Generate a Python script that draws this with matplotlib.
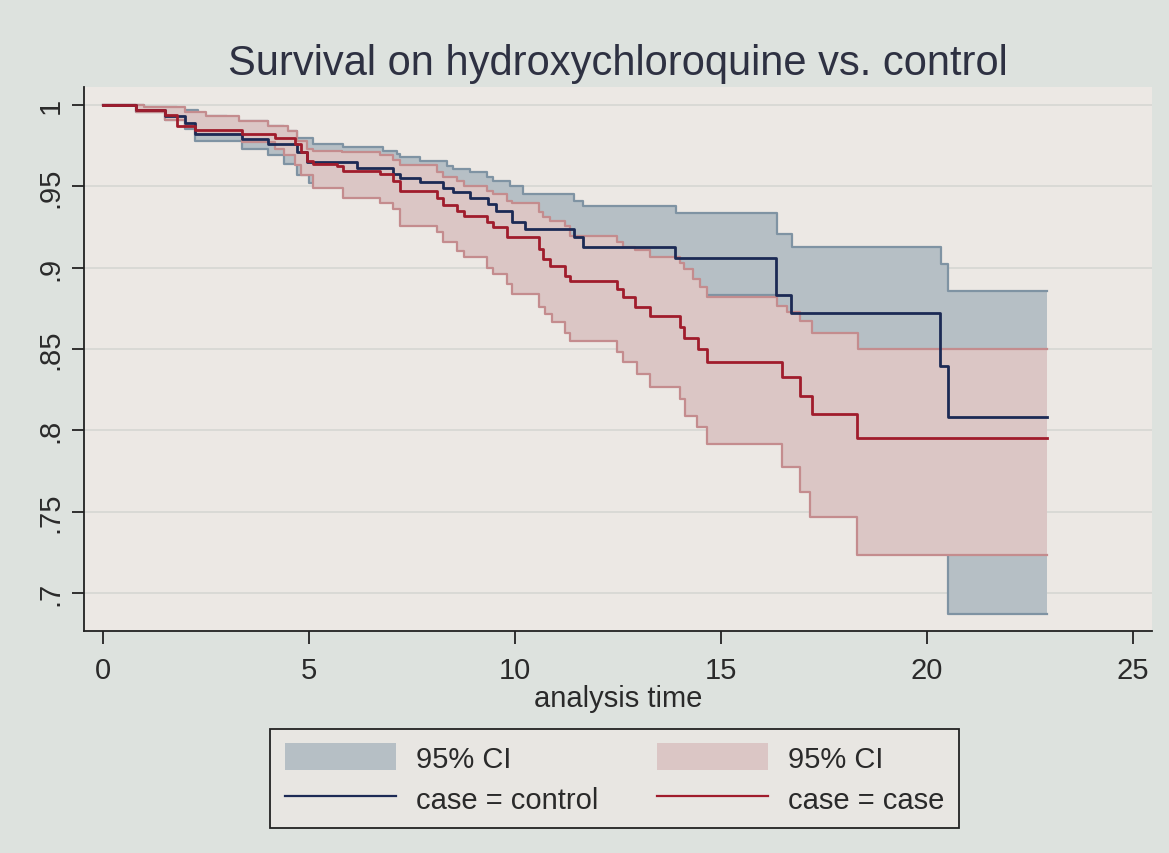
import numpy as np
import matplotlib
matplotlib.use("Agg")
import matplotlib.pyplot as plt
from matplotlib.patches import Patch
from matplotlib.lines import Line2D

plt.rcParams['font.family'] = ['Liberation Sans', 'DejaVu Sans']

# ---- data (Kaplan-Meier step functions) ----
# control group
ctrl_t = [0, 0.8, 1.5, 2.0, 2.23, 3.37, 4.0, 4.7, 4.94, 6.16, 7.05, 7.2, 7.7, 8.26, 8.5, 8.9,
          9.35, 9.55, 9.92, 10.24, 11.42, 11.66, 13.88, 16.33, 16.69, 20.32, 20.52, 22.9]
ctrl_s = [1.0, 0.997, 0.993, 0.989, 0.982, 0.979, 0.976, 0.971, 0.965, 0.961, 0.9576, 0.955, 0.9525,
          0.949, 0.9463, 0.9426, 0.939, 0.935, 0.928, 0.9237, 0.9186, 0.9125, 0.9059, 0.8833,
          0.8719, 0.8397, 0.8079, 0.8079]
ctrl_up_t = [0, 1.0, 1.8, 2.3, 3.0, 4.0, 4.4, 4.7, 5.1, 5.83, 6.8, 7.13, 7.21, 7.69, 8.34, 8.5, 8.91,
             9.31, 9.47, 9.88, 10.2, 11.42, 11.66, 13.91, 16.35, 16.72, 20.33, 20.52, 22.9]
ctrl_up = [1.0, 0.999, 0.997, 0.993, 0.990, 0.987, 0.984, 0.980, 0.976, 0.974, 0.972, 0.970, 0.9678,
           0.9657, 0.9627, 0.9606, 0.9586, 0.9555, 0.9535, 0.9504, 0.945, 0.941, 0.9377, 0.9334,
           0.9207, 0.9129, 0.9022, 0.8854, 0.8854]
ctrl_lo_t = [0, 0.8, 1.5, 2.0, 2.23, 3.37, 4.0, 4.4, 4.7, 5.0, 6.16, 7.05, 7.2, 7.7, 8.26, 8.5, 8.9,
             9.35, 9.55, 9.92, 10.24, 11.42, 11.66, 13.88, 16.33, 16.69, 20.32, 20.52, 22.9]
ctrl_lo = [1.0, 0.996, 0.991, 0.985, 0.978, 0.973, 0.969, 0.964, 0.957, 0.952, 0.948, 0.945, 0.942,
           0.939, 0.935, 0.931, 0.927, 0.923, 0.918, 0.910, 0.905, 0.898, 0.892, 0.883, 0.855,
           0.840, 0.800, 0.687, 0.687]

# hydroxychloroquine (case) group
case_t = [0, 0.8, 1.5, 1.8, 2.23, 3.37, 4.17, 4.66, 4.8, 4.94, 5.1, 5.67, 5.83, 6.72, 7.05, 7.21,
          8.1, 8.26, 8.58, 8.75, 9.31, 9.47, 9.8, 10.57, 10.69, 10.85, 11.21, 11.33, 12.47, 12.63,
          12.91, 13.28, 14.0, 14.09, 14.45, 14.65, 16.47, 16.92, 17.2, 18.29, 22.9]
case_s = [1.0, 0.997, 0.994, 0.987, 0.9846, 0.982, 0.980, 0.976, 0.971, 0.9657, 0.964, 0.9627, 0.9596,
          0.9576, 0.9535, 0.947, 0.943, 0.9387, 0.935, 0.932, 0.928, 0.925, 0.9186, 0.9114, 0.9053,
          0.9008, 0.895, 0.892, 0.8868, 0.8817, 0.8756, 0.8704, 0.8633, 0.857, 0.85, 0.842, 0.8325,
          0.8212, 0.81, 0.795, 0.795]
case_up_t = [0, 1.0, 2.0, 2.5, 3.3, 4.0, 4.5, 4.7, 4.94, 5.1, 5.8, 6.72, 7.05, 7.21, 8.1, 8.26, 8.58,
             8.75, 9.31, 9.47, 9.8, 9.92, 10.57, 10.69, 10.85, 11.21, 11.33, 12.47, 12.63, 12.91,
             13.28, 14.0, 14.09, 14.33, 14.49, 14.65, 16.35, 16.59, 16.92, 17.2, 18.33, 22.9]
case_up = [1.0, 0.999, 0.996, 0.993, 0.990, 0.987, 0.984, 0.978, 0.973, 0.972, 0.971, 0.969, 0.966,
           0.963, 0.9586, 0.9555, 0.9535, 0.9504, 0.947, 0.945, 0.941, 0.940, 0.934, 0.931, 0.9289,
           0.9258, 0.9196, 0.916, 0.9129, 0.9108, 0.9067, 0.9026, 0.899, 0.893, 0.8879, 0.882,
           0.8766, 0.8725, 0.8674, 0.8598, 0.85, 0.85]
case_lo_t = [0, 0.8, 1.5, 2.0, 2.23, 3.37, 4.17, 4.4, 4.66, 4.8, 5.1, 5.83, 6.72, 7.05, 7.21, 8.1,
             8.26, 8.58, 8.75, 9.31, 9.47, 9.8, 9.92, 10.57, 10.73, 10.89, 11.21, 11.33, 12.47,
             12.63, 12.95, 13.28, 14.0, 14.13, 14.41, 14.65, 16.47, 16.92, 17.16, 18.29, 22.9]
case_lo = [1.0, 0.996, 0.991, 0.987, 0.982, 0.977, 0.973, 0.969, 0.963, 0.957, 0.949, 0.943, 0.940,
           0.936, 0.9258, 0.9217, 0.9155, 0.910, 0.9063, 0.900, 0.896, 0.890, 0.8838, 0.876, 0.8715,
           0.8664, 0.860, 0.855, 0.848, 0.8418, 0.8346, 0.8263, 0.819, 0.809, 0.8018, 0.7915,
           0.7772, 0.762, 0.7464, 0.7232, 0.7232]

x_ticks = [0, 5, 10, 15, 20, 25]
y_ticks = [0.7, 0.75, 0.8, 0.85, 0.9, 0.95, 1.0]
y_labels = ['.7', '.75', '.8', '.85', '.9', '.95', '1']

# ---- colours ----
outer_bg = '#dde2de'
plot_bg = '#ece8e4'
grid_c = '#d6d6d2'
blue_fill = '#b6bfc5'
blue_edge = '#7f93a3'
red_fill = '#dbc6c5'
red_edge = '#c48c8e'
blue_line = '#1c2a55'
red_line = '#a01c2c'


def step_on(grid, t, v):
    t = np.asarray(t)
    v = np.asarray(v)
    idx = np.searchsorted(t, grid, side='right') - 1
    return v[np.clip(idx, 0, len(v) - 1)]


fig = plt.figure(figsize=(11.69, 8.54), dpi=100, facecolor=outer_bg)
ax = fig.add_axes([84 / 1169, 1 - 632 / 854, (1152 - 84) / 1169, (632 - 88) / 854])
ax.set_facecolor(plot_bg)

for gy in y_ticks:
    ax.axhline(gy, color=grid_c, lw=1.2, zorder=0.5)

# control CI band
g1 = np.unique(np.concatenate([ctrl_up_t, ctrl_lo_t]))
ax.fill_between(g1, step_on(g1, ctrl_lo_t, ctrl_lo), step_on(g1, ctrl_up_t, ctrl_up),
                step='post', color=blue_fill, lw=0, zorder=1)
ax.step(ctrl_up_t, ctrl_up, where='post', color=blue_edge, lw=1.6, zorder=1.1)
ax.step(ctrl_lo_t, ctrl_lo, where='post', color=blue_edge, lw=1.6, zorder=1.1)

# case CI band (drawn on top)
g2 = np.unique(np.concatenate([case_up_t, case_lo_t]))
ax.fill_between(g2, step_on(g2, case_lo_t, case_lo), step_on(g2, case_up_t, case_up),
                step='post', color=red_fill, lw=0, zorder=2)
ax.step(case_up_t, case_up, where='post', color=red_edge, lw=1.6, zorder=2.1)
ax.step(case_lo_t, case_lo, where='post', color=red_edge, lw=1.6, zorder=2.1)

# survival curves
ax.step(ctrl_t, ctrl_s, where='post', color=blue_line, lw=2.0, zorder=3)
ax.step(case_t, case_s, where='post', color=red_line, lw=2.0, zorder=3.1)

ax.set_xlim(-0.461, 25.46)
ax.set_ylim(0.6765, 1.0111)
ax.set_xticks(x_ticks)
ax.set_xticklabels([str(v) for v in x_ticks])
ax.set_yticks(y_ticks)
ax.set_yticklabels(y_labels, rotation=90, va='center')
ax.tick_params(axis='both', labelsize=21, colors='#222222', length=9, width=1.3,
               labelcolor='#2a2a2a')
ax.tick_params(axis='x', pad=9)
ax.tick_params(axis='y', pad=5)
for s in ['top', 'right']:
    ax.spines[s].set_visible(False)
for s in ['left', 'bottom']:
    ax.spines[s].set_color('#222222')
    ax.spines[s].set_linewidth(1.3)

ax.set_xlabel('analysis time', fontsize=21, color='#2a2a2a', labelpad=0)
ax.set_title('Survival on hydroxychloroquine vs. control', fontsize=30, color='#2e3142', pad=9)

handles = [Patch(facecolor=blue_fill, edgecolor='none'),
           Line2D([], [], color=blue_line, lw=1.6),
           Patch(facecolor=red_fill, edgecolor='none'),
           Line2D([], [], color=red_line, lw=1.6)]
labels = ['95% CI', 'case = control', '95% CI', 'case = case']
leg = fig.legend(handles, labels, ncol=2, loc='center', bbox_to_anchor=(614.5 / 1169, 74.5 / 854),
                 fontsize=21, frameon=True, fancybox=False, edgecolor='#222222',
                 facecolor='#e8e6e2', framealpha=1, handlelength=3.8, handleheight=1.05,
                 handletextpad=0.7, columnspacing=2.0, labelspacing=0.4, borderpad=0.5)
leg.get_frame().set_linewidth(1.3)
for t in leg.get_texts():
    t.set_color('#2a2a2a')

fig.savefig('out.png', dpi=100, facecolor=outer_bg)
